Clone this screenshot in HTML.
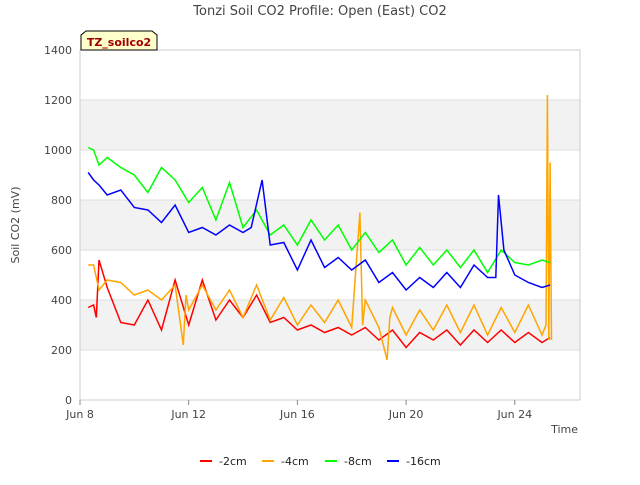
<!DOCTYPE html>
<html><head><meta charset="utf-8"><style>
body{margin:0;background:#fff;font-family:"Liberation Sans","DejaVu Sans",sans-serif;}
</style></head><body>
<svg id="chart" width="640" height="480" xmlns="http://www.w3.org/2000/svg" font-family="DejaVu Sans, Liberation Sans, sans-serif">
<rect width="640" height="480" fill="#fff"/>
<text x="320" y="15" text-anchor="middle" font-size="13" fill="#444">Tonzi Soil CO2 Profile: Open (East) CO2</text>
<g id="bands"></g>
<g id="grid"></g>
<g id="series"></g>
<g id="axes"></g>
<text x="19" y="225" text-anchor="middle" font-size="11" fill="#444" transform="rotate(-90 19 225)">Soil CO2 (mV)</text>
<text x="578" y="433" text-anchor="end" font-size="11" fill="#444">Time</text>
<g>
<path d="M81,50 L81,35 L86,31 L152,31 L157,35 L157,50 Z" fill="#ffffcc" stroke="#000" stroke-width="1"/>
<text x="119" y="46" text-anchor="middle" font-size="11" font-weight="bold" fill="#a00000">TZ_soilco2</text>
</g>
<g id="legend"></g>
</svg>
<script>
const yTicks=[0,200,400,600,800,1000,1200,1400];
const xTickDays=[8,12,16,20,24];
const xTickLabels=["Jun 8","Jun 12","Jun 16","Jun 20","Jun 24"];
const seriesNames=["-2cm","-4cm","-8cm","-16cm"];
const seriesColors=["#ff0000","#ffa500","#00ff00","#0000ff"];
const tRed=[8.3,8.5,8.6,8.7,9,9.5,10,10.5,11,11.5,12,12.5,13,13.5,14,14.5,15,15.5,16,16.5,17,17.5,18,18.5,19,19.5,20,20.5,21,21.5,22,22.5,23,23.5,24,24.5,25,25.3];
const vRed=[370,380,330,560,450,310,300,400,280,480,300,480,320,400,330,420,310,330,280,300,270,290,260,290,240,280,210,270,240,280,220,280,230,280,230,270,230,250];
const tOrange=[8.3,8.5,8.7,9,9.5,10,10.5,11,11.5,11.8,11.9,12,12.5,13,13.5,14,14.5,15,15.5,16,16.5,17,17.5,18,18.3,18.4,18.5,19,19.3,19.4,19.5,20,20.5,21,21.5,22,22.5,23,23.5,24,24.5,25,25.15,25.2,25.25,25.3,25.35];
const vOrange=[540,540,440,480,470,420,440,400,460,220,420,360,460,360,440,330,460,320,410,300,380,310,400,290,750,300,400,290,160,330,370,260,360,280,380,270,380,260,370,270,380,260,300,1220,240,950,240];
const tGreen=[8.3,8.5,8.7,9,9.5,10,10.5,11,11.5,12,12.5,13,13.5,14,14.5,15,15.5,16,16.5,17,17.5,18,18.5,19,19.5,20,20.5,21,21.5,22,22.5,23,23.5,24,24.5,25,25.3];
const vGreen=[1010,1000,940,970,930,900,830,930,880,790,850,720,870,690,760,660,700,620,720,640,700,600,670,590,640,540,610,540,600,530,600,510,600,550,540,560,550];
const tBlue=[8.3,8.5,8.7,9,9.5,10,10.5,11,11.5,12,12.5,13,13.5,14,14.3,14.7,15,15.5,16,16.5,17,17.5,18,18.5,19,19.5,20,20.5,21,21.5,22,22.5,23,23.3,23.4,23.6,24,24.5,25,25.3];
const vBlue=[910,880,860,820,840,770,760,710,780,670,690,660,700,670,690,880,620,630,520,640,530,570,520,560,470,510,440,490,450,510,450,540,490,490,820,600,500,470,450,460];

const X0=80,X1=580,Y0=400,Y1=50,D0=8,D1=26.4;
function xs(d){return X0+(d-D0)/(D1-D0)*(X1-X0);}
function ys(v){return Y0-v/1400*(Y0-Y1);}
const NS="http://www.w3.org/2000/svg";
function mk(tag,attrs,parent){const e=document.createElementNS(NS,tag);for(const k in attrs)e.setAttribute(k,attrs[k]);document.getElementById(parent).appendChild(e);return e;}

for(let i=0;i<yTicks.length-1;i++){
  if(i%2===1){
    const r=mk("rect",{x:X0,y:ys(yTicks[i+1]),width:X1-X0,height:ys(yTicks[i])-ys(yTicks[i+1]),fill:"#f2f2f2"},"bands");
    
    
  }
}
for(const v of yTicks){
  const l=mk("line",{x1:X0,x2:X1,y1:ys(v),y2:ys(v),stroke:"#dddddd","stroke-width":1},"grid");
  
  
  const t=mk("text",{x:X0-8,y:ys(v)+4,"text-anchor":"end","font-size":"11",fill:"#444"},"axes");
  t.textContent=v;
  
  
}
const frame=mk("rect",{x:X0,y:Y1,width:X1-X0,height:Y0-Y1,fill:"none",stroke:"#ccc"},"axes");


xTickDays.forEach((d,i)=>{
  const l=mk("line",{x1:xs(d),x2:xs(d),y1:Y0,y2:Y0+5,stroke:"#888"},"axes");
  
  
  const t=mk("text",{x:xs(d),y:Y0+18,"text-anchor":"middle","font-size":"11",fill:"#444"},"axes");
  t.textContent=xTickLabels[i];
  
  
});
const all=[[tRed,vRed],[tOrange,vOrange],[tGreen,vGreen],[tBlue,vBlue]];
all.forEach((s,i)=>{
  const pts=s[0].map((t,j)=>xs(t).toFixed(1)+","+ys(s[1][j]).toFixed(1)).join(" ");
  const p=mk("polyline",{points:pts,fill:"none",stroke:seriesColors[i],"stroke-width":1.5},"series");
  
  
});
const lx=[200,262,325,387];
seriesNames.forEach((n,i)=>{
  const l=mk("line",{x1:lx[i],x2:lx[i]+12,y1:461,y2:461,stroke:seriesColors[i],"stroke-width":2},"legend");
  
  
  const t=mk("text",{x:lx[i]+19,y:465,"font-size":"11",fill:"#222"},"legend");
  t.textContent=n;
  
  
});
</script>
</body></html>
